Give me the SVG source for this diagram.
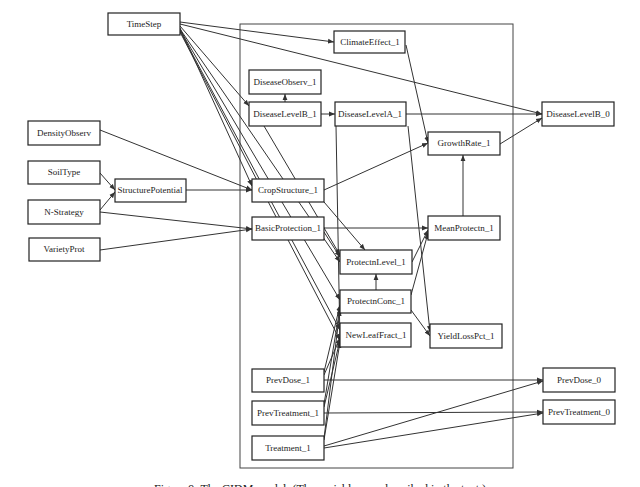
<svg xmlns="http://www.w3.org/2000/svg" width="640" height="487" viewBox="0 0 640 487">
<defs>
<marker id="a" viewBox="0 0 10 10" refX="10" refY="5" markerWidth="6" markerHeight="6" orient="auto"><path d="M0,1 L10,5 L0,9 z" fill="#333"/></marker>
<style>
rect{fill:#fff;stroke:#222;stroke-width:1.2}
text{font-family:"Liberation Serif",serif;font-size:9px;text-anchor:middle;fill:#222}
#edges line{stroke:#333;stroke-width:1;marker-end:url(#a)}
.frame{fill:none;stroke:#444;stroke-width:1}
</style>
</defs>
<rect width="640" height="487" style="fill:#fff;stroke:none"/>
<rect class="frame" x="240" y="24" width="273" height="444"/>
<g id="edges">
<line x1="180" y1="22" x2="334" y2="42"/>
<line x1="180" y1="24" x2="542" y2="114"/>
<line x1="180" y1="26" x2="249" y2="106"/>
<line x1="180" y1="28" x2="252" y2="186"/>
<line x1="180" y1="29" x2="340" y2="262"/>
<line x1="180" y1="30" x2="340" y2="300"/>
<line x1="180" y1="31" x2="340" y2="330"/>
<line x1="180" y1="32" x2="340" y2="340"/>
<line x1="285" y1="102" x2="285" y2="94"/>
<line x1="321" y1="114" x2="335" y2="114"/>
<line x1="264" y1="126" x2="340" y2="255"/>
<line x1="406" y1="114" x2="542" y2="114"/>
<line x1="408" y1="126" x2="430" y2="332"/>
<line x1="336" y1="126" x2="340" y2="343"/>
<line x1="406" y1="45" x2="428" y2="143"/>
<line x1="500" y1="144" x2="542" y2="118"/>
<line x1="324" y1="190" x2="428" y2="143"/>
<line x1="324" y1="202" x2="365" y2="250"/>
<line x1="463" y1="216" x2="463" y2="155"/>
<line x1="324" y1="228" x2="428" y2="228"/>
<line x1="324" y1="232" x2="340" y2="257"/>
<line x1="412" y1="262" x2="428" y2="230"/>
<line x1="411" y1="295" x2="428" y2="233"/>
<line x1="376" y1="290" x2="376" y2="274"/>
<line x1="411" y1="310" x2="430" y2="336"/>
<line x1="100" y1="130" x2="252" y2="190"/>
<line x1="100" y1="173" x2="115" y2="190"/>
<line x1="100" y1="210" x2="115" y2="192"/>
<line x1="186" y1="190" x2="252" y2="190"/>
<line x1="100" y1="212" x2="252" y2="229"/>
<line x1="100" y1="250" x2="252" y2="229"/>
<line x1="324" y1="380" x2="543" y2="380"/>
<line x1="324" y1="413" x2="543" y2="412"/>
<line x1="324" y1="446" x2="543" y2="381"/>
<line x1="324" y1="448" x2="543" y2="413"/>
<line x1="324" y1="372" x2="340" y2="305"/>
<line x1="324" y1="404" x2="340" y2="308"/>
<line x1="324" y1="438" x2="340" y2="310"/>
<line x1="324" y1="375" x2="340" y2="338"/>
<line x1="324" y1="407" x2="340" y2="340"/>
<line x1="324" y1="440" x2="340" y2="342"/>
</g>
<g id="TimeStep"><rect x="108" y="13" width="72" height="22"/><text x="144" y="27">TimeStep</text></g>
<g id="DensityObserv"><rect x="28" y="121" width="72" height="24"/><text x="64" y="136">DensityObserv</text></g>
<g id="SoilType"><rect x="28" y="161" width="72" height="23"/><text x="64" y="175">SoilType</text></g>
<g id="StructurePotential"><rect x="115" y="179" width="71" height="23"/><text x="150" y="193">StructurePotential</text></g>
<g id="NStrategy"><rect x="28" y="200" width="72" height="24"/><text x="64" y="215">N-Strategy</text></g>
<g id="VarietyProt"><rect x="29" y="238" width="71" height="23"/><text x="64" y="252">VarietyProt</text></g>
<g id="ClimateEffect_1"><rect x="334" y="31" width="71" height="22"/><text x="370" y="45">ClimateEffect_1</text></g>
<g id="DiseaseObserv_1"><rect x="249" y="70" width="72" height="24"/><text x="285" y="85">DiseaseObserv_1</text></g>
<g id="DiseaseLevelB_1"><rect x="249" y="102" width="72" height="24"/><text x="285" y="117">DiseaseLevelB_1</text></g>
<g id="DiseaseLevelA_1"><rect x="335" y="102" width="71" height="24"/><text x="370" y="117">DiseaseLevelA_1</text></g>
<g id="DiseaseLevelB_0"><rect x="542" y="102" width="72" height="24"/><text x="578" y="117">DiseaseLevelB_0</text></g>
<g id="GrowthRate_1"><rect x="428" y="132" width="72" height="23"/><text x="464" y="146">GrowthRate_1</text></g>
<g id="CropStructure_1"><rect x="252" y="179" width="72" height="23"/><text x="288" y="193">CropStructure_1</text></g>
<g id="BasicProtection_1"><rect x="252" y="217" width="72" height="23"/><text x="288" y="231">BasicProtection_1</text></g>
<g id="MeanProtectn_1"><rect x="428" y="216" width="72" height="24"/><text x="464" y="231">MeanProtectn_1</text></g>
<g id="ProtectnLevel_1"><rect x="340" y="250" width="72" height="24"/><text x="376" y="265">ProtectnLevel_1</text></g>
<g id="ProtectnConc_1"><rect x="340" y="290" width="71" height="23"/><text x="376" y="304">ProtectnConc_1</text></g>
<g id="NewLeafFract_1"><rect x="340" y="323" width="71" height="24"/><text x="376" y="338">NewLeafFract_1</text></g>
<g id="YieldLossPct_1"><rect x="430" y="324" width="72" height="24"/><text x="466" y="339">YieldLossPct_1</text></g>
<g id="PrevDose_1"><rect x="252" y="369" width="72" height="23"/><text x="288" y="383">PrevDose_1</text></g>
<g id="PrevTreatment_1"><rect x="252" y="401" width="72" height="24"/><text x="288" y="416">PrevTreatment_1</text></g>
<g id="Treatment_1"><rect x="252" y="436" width="72" height="24"/><text x="288" y="451">Treatment_1</text></g>
<g id="PrevDose_0"><rect x="543" y="368" width="72" height="24"/><text x="579" y="383">PrevDose_0</text></g>
<g id="PrevTreatment_0"><rect x="543" y="400" width="72" height="24"/><text x="579" y="415">PrevTreatment_0</text></g>
<text x="320" y="493" style="font-size:12px">Figure 9: The CIDM model.  (The variables are described in the text.)</text>
</svg>
